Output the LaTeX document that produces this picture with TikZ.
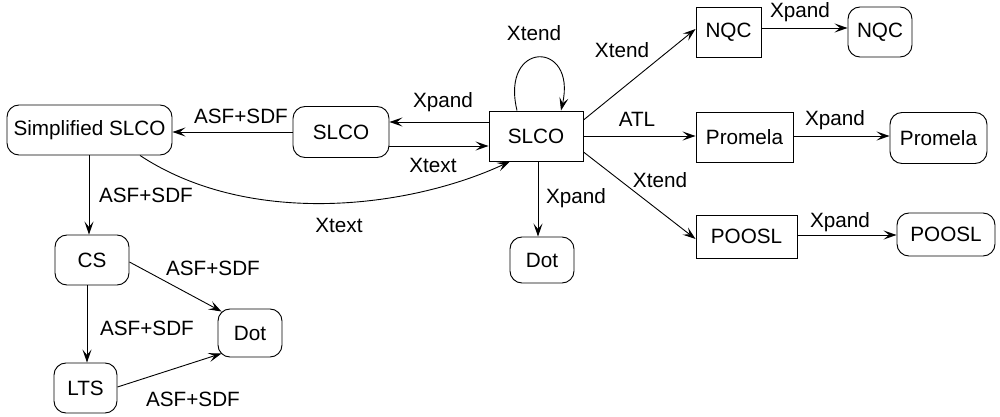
\documentclass[tikz,border=0pt]{standalone}
\usepackage{fontspec}
\setmainfont{Liberation Sans}
\usetikzlibrary{arrows.meta}
\begin{document}
\begin{tikzpicture}[x=1pt,y=-1pt,
  every node/.style={font=\fontsize{20.7}{24}\selectfont, inner sep=0pt},
  box/.style={draw, line width=0.95pt, minimum height=50pt},
  rbox/.style={box, rounded corners=12pt},
  lab/.style={anchor=base},
  arr/.style={line width=0.9pt, -{Stealth[length=13pt,width=9pt,inset=5.5pt]}}]
\useasboundingbox (0,0) rectangle (1000,417);

% model nodes
\node[rbox, minimum width=165pt] (ss) at (89.5,130) {Simplified SLCO};
\node[rbox, minimum width=96pt, minimum height=51pt] (slcoR) at (341,132) {SLCO};
\node[box, minimum width=94pt] (slco) at (536,136) {SLCO};
\node[rbox, minimum width=64pt, minimum height=46pt] (dotM) at (542,260) {Dot};
\node[box, minimum width=65pt] (nqc) at (728.5,32) {NQC};
\node[rbox, minimum width=64pt] (nqcR) at (880,32) {NQC};
\node[box, minimum width=97pt] (prom) at (744.5,137) {Promela};
\node[rbox, minimum width=97pt, minimum height=51pt] (promR) at (938.5,138) {Promela};
\node[box, minimum width=101pt, minimum height=43pt] (poosl) at (746.5,236.5) {POOSL};
\node[rbox, minimum width=98pt, minimum height=43pt] (pooslR) at (946,234.5) {POOSL};
\node[rbox, minimum width=74pt] (cs) at (92,260) {CS};
\node[rbox, minimum width=64pt, minimum height=48pt] (dotL) at (250,333) {Dot};
\node[rbox, minimum width=63pt] (lts) at (85.5,388) {LTS};

% transformations
\draw[arr] (slco.west |- 0,122) -- (slcoR.east |- 0,122);
\draw[arr] (slcoR.east |- 0,146) -- (slco.west |- 0,146);
\draw[arr] (slcoR.west |- 0,132) -- (ss.east |- 0,132);
\draw[arr] (ss.south -| 89,0) -- (cs.north -| 89,0);
\draw[arr] (cs.south -| 87,0) -- (lts.north -| 87,0);
\draw[arr] (cs.east |- 0,262) -- ([shift={(4,3)}]dotL.north west);
\draw[arr] (lts.east |- 0,387) -- ([shift={(4,-4)}]dotL.south west);
\draw[arr] (ss.south -| 140,0) .. controls (250,228) and (410,208) .. (slco.south -| 510,0);
\draw[arr] (slco.north -| 517,0) .. controls (500,40) and (577,40) .. (slco.north -| 561,0);
\draw[arr] (slco.east |- 0,120) -- (nqc.west |- 0,29);
\draw[arr] (slco.east |- 0,136) -- (prom.west |- 0,136);
\draw[arr] (slco.east |- 0,152) -- (poosl.west |- 0,239);
\draw[arr] (slco.south -| 538,0) -- (dotM.north -| 538,0);
\draw[arr] (nqc.east |- 0,28) -- (nqcR.west |- 0,28);
\draw[arr] (prom.east |- 0,136) -- (promR.west |- 0,136);
\draw[arr] (poosl.east |- 0,235) -- (pooslR.west |- 0,235);

% labels
\node[lab] (l1) at (241,123) {ASF+SDF};
\node[lab] (l2) at (146,202) {ASF+SDF};
\node[lab] (l3) at (339,232) {Xtext};
\node[lab] (l4) at (443,108) {Xpand};
\node[lab] (l5) at (433,172) {Xtext};
\node[lab] (l6) at (534,41) {Xtend};
\node[lab] (l7) at (622,58) {Xtend};
\node[lab] (l8) at (637,127) {ATL};
\node[lab] (l9) at (660,187) {Xtend};
\node[lab] (l10) at (576,203) {Xpand};
\node[lab] (l11) at (800,18) {Xpand};
\node[lab] (l12) at (835,125) {Xpand};
\node[lab] (l13) at (840,227) {Xpand};
\node[lab] (l14) at (213,275) {ASF+SDF};
\node[lab] (l15) at (147,335) {ASF+SDF};
\node[lab] (l16) at (193,406) {ASF+SDF};
\end{tikzpicture}
\end{document}
